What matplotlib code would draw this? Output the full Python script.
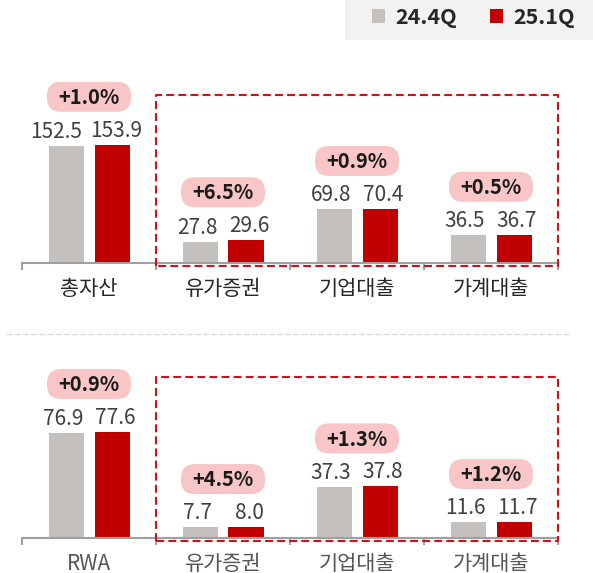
import numpy as np
import matplotlib.pyplot as plt
import matplotlib.transforms as mtransforms
from matplotlib.patches import Rectangle, FancyBboxPatch
from matplotlib.lines import Line2D

plt.rcParams['font.family'] = ['Noto Sans CJK KR', 'DejaVu Sans']

# data
series = ['24.4Q', '25.1Q']
top_cats = ['총자산', '유가증권', '기업대출', '가계대출']
top_prev = [152.5, 27.8, 69.8, 36.5]
top_curr = [153.9, 29.6, 70.4, 36.7]
top_chg = ['+1.0%', '+6.5%', '+0.9%', '+0.5%']

bot_cats = ['RWA', '유가증권', '기업대출', '가계대출']
bot_prev = [76.9, 7.7, 37.3, 11.6]
bot_curr = [77.6, 8.0, 37.8, 11.7]
bot_chg = ['+0.9%', '+4.5%', '+1.3%', '+1.2%']

GRAY = '#c4c0be'
RED = '#c00000'
PINK = '#f8c6c7'

W, H = 593, 573
fig = plt.figure(figsize=(W / 100, H / 100), dpi=100)


def fx(px):
    return px / W


def fy(py):
    return 1 - py / H


def panel(axis_y, top_y, scale, cats, prev, curr, chg, lab_color, box_top_px):
    h_px = axis_y - top_y
    ax = fig.add_axes([fx(22), fy(axis_y), fx(536), h_px / H])
    ax.set_xlim(-0.5, 3.5)
    ax.set_ylim(0, h_px / scale)
    ax.patch.set_alpha(0)
    x = np.arange(len(cats))
    off = 23 / 134
    bw = 35 / 134
    ax.bar(x - off, prev, bw, color=GRAY, zorder=2)
    ax.bar(x + off, curr, bw, color=RED, zorder=2)

    for s in ['top', 'right', 'left']:
        ax.spines[s].set_visible(False)
    ax.spines['bottom'].set_color('#a0a0a0')
    ax.spines['bottom'].set_linewidth(1.5)
    ax.spines['bottom'].set_zorder(3)
    ax.set_yticks([])
    ax.set_xticks(np.arange(-0.5, 4, 1))
    ax.set_xticklabels([])
    ax.tick_params(axis='x', length=5, width=1.5, color='#a0a0a0')
    for i, c in enumerate(cats):
        ax.annotate(c, (i, 0), xytext=(0, -26 * 0.72), textcoords='offset points',
                    ha='center', va='center', fontsize=15, color=lab_color,
                    annotation_clip=False)

    for i in range(len(cats)):
        # long labels get pushed apart a bit more
        wide = max(prev[i], curr[i]) >= 100
        shifts = (-10, 4) if wide else (-3, 3)
        for xx, v, dx in [(i - off, prev[i], shifts[0]), (i + off, curr[i], shifts[1])]:
            ax.annotate(f'{v:.1f}', (xx, v), xytext=(dx * 0.72, 8 * 0.72),
                        textcoords='offset points',
                        ha='center', va='baseline', fontsize=15, color='#404040',
                        annotation_clip=False)
        ymax = max(prev[i], curr[i])
        tr = mtransforms.Affine2D() + mtransforms.ScaledTranslation(i, ymax, ax.transData)
        bub = FancyBboxPatch((-42, 48 - 15), 84, 30,
                             boxstyle='round,pad=0,rounding_size=14',
                             transform=tr, fc=PINK, ec='none', clip_on=False, zorder=4)
        ax.add_patch(bub)
        ax.annotate(chg[i], (i, ymax), xytext=(0, (48 - 7.2) * 0.72), textcoords='offset points',
                    ha='center', va='baseline', fontsize=14.5, fontweight='bold',
                    color='#1a1a1a', zorder=5, annotation_clip=False)

    # dashed highlight box around the three sub-items
    btop = (axis_y - box_top_px) / scale
    bbot = -2.5 / scale
    ax.plot([0.5, 0.5, 3.5, 3.5, 0.5], [bbot, btop, btop, bbot, bbot],
            color='#d0101a', lw=1.5, ls=(0, (3.8, 2.0)), clip_on=False, zorder=4)
    return ax


panel(263, 40, 0.768, top_cats, top_prev, top_curr, top_chg, '#262626', 95)
panel(538, 345, 1.366, bot_cats, bot_prev, bot_curr, bot_chg, '#555555', 377)

# separator
fig.add_artist(Line2D([fx(6), fx(570)], [fy(334), fy(334)], color='#d9d9d9', lw=1.0,
                      ls=(0, (4.3, 1.6))))

# legend
fig.add_artist(Rectangle((fx(345), fy(39.5)), fx(W - 345), 39.5 / H, fc='#f2f2f2', ec='none'))
for sx, col, lab in [(372, GRAY, series[0]), (490, RED, series[1])]:
    fig.add_artist(Rectangle((fx(sx), fy(22.5)), fx(13), 13 / H, fc=col, ec='none'))
    fig.text(fx(sx + 23), fy(24), lab, ha='left', va='baseline', fontsize=15.5,
             fontweight='bold', color='#262626')

fig.savefig('out.png', dpi=100)
